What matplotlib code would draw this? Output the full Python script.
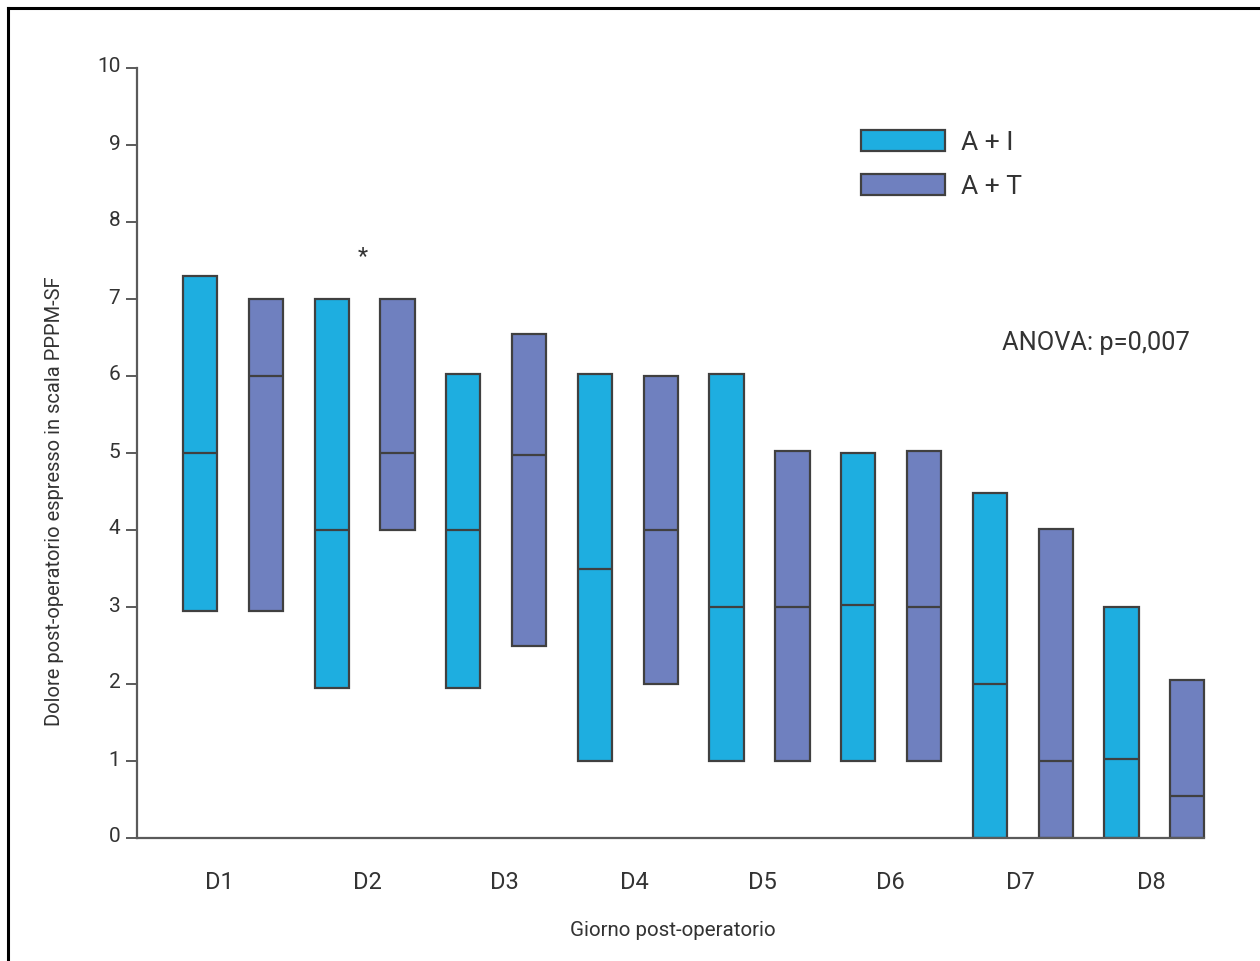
import matplotlib
matplotlib.use("Agg")
import matplotlib.pyplot as plt
import matplotlib.transforms as mtransforms
from matplotlib.patches import Patch
from matplotlib.lines import Line2D

plt.rcParams['font.family'] = ['Roboto', 'DejaVu Sans']

days = ["D1", "D2", "D3", "D4", "D5", "D6", "D7", "D8"]
groups = ["A + I", "A + T"]

# min, median, max per day
ai_min = [2.95, 1.95, 1.95, 1.0, 1.0, 1.0, 0.0, 0.0]
ai_med = [5.0, 4.0, 4.0, 3.5, 3.0, 3.02, 2.0, 1.02]
ai_max = [7.3, 7.0, 6.02, 6.02, 6.02, 5.0, 4.48, 3.0]

at_min = [2.95, 4.0, 2.5, 2.0, 1.0, 1.0, 0.0, 0.0]
at_med = [6.0, 5.0, 4.98, 4.0, 3.0, 3.0, 1.0, 0.54]
at_max = [7.0, 7.0, 6.55, 6.0, 5.03, 5.03, 4.01, 2.05]

# day label positions along the bar index axis
day_pos = [0.29, 2.55, 4.62, 6.6, 8.54, 10.49, 12.46, 14.45]

colors = ["#1eaee0", "#6f80bf"]
edge = "#404040"
axc = "#5a5a5a"
txt = "#333333"

fig = plt.figure(figsize=(12.6, 9.61), dpi=100)
ax = fig.add_axes([137/1260, 1-838/961, 1080/1260, 770/961])

w = 0.52
series = [(ai_min, ai_med, ai_max), (at_min, at_med, at_max)]
for g, (lo, med, hi) in enumerate(series):
    for i in range(len(days)):
        x = 2*i + g
        ax.bar(x, hi[i]-lo[i], bottom=lo[i], width=w, color=colors[g],
               edgecolor=edge, linewidth=1.6, zorder=3)
        ax.plot([x-w/2, x+w/2], [med[i], med[i]], color=edge, lw=1.6, zorder=4,
                solid_capstyle='butt')

ax.set_xlim(-0.957, 15.45)
ax.set_ylim(0, 10)
ax.spines['bottom'].set_bounds(-0.957, 15.26)
ax.set_yticks(range(11))
ax.set_xticks(day_pos)
ax.set_xticklabels(days, fontsize=17, color=txt)
ax.tick_params(axis='x', length=0, pad=24)
ax.tick_params(axis='y', length=8, width=1.4, color=axc, labelsize=15,
               labelcolor=txt, pad=4)
shift = mtransforms.ScaledTranslation(0, 3/100, fig.dpi_scale_trans)
for lab in ax.get_yticklabels():
    lab.set_transform(lab.get_transform() + shift)
for s in ["top", "right"]:
    ax.spines[s].set_visible(False)
for s in ["left", "bottom"]:
    ax.spines[s].set_color(axc)
    ax.spines[s].set_linewidth(1.6)
ax.spines["bottom"].set_zorder(5)

ax.text(2.48, 7.55, "*", ha='center', va='center', fontsize=17, color=txt)

handles = [Patch(facecolor=c, edgecolor=edge, linewidth=1.6) for c in colors]
ax.legend(handles, groups, loc='upper left', bbox_to_anchor=(861/1260, 1-130/961),
          bbox_transform=fig.transFigure, frameon=False, fontsize=19,
          handlelength=3.2, handleheight=0.85, handletextpad=0.6,
          labelspacing=0.75, borderpad=0, borderaxespad=0, labelcolor=txt)

fig.text(1190/1260, 1-343/961, "ANOVA: p=0,007", ha='right', va='center',
         fontsize=18.3, color=txt)
fig.text(673/1260, 1-930/961, "Giorno post-operatorio", ha='center', va='center',
         fontsize=14.8, color=txt)
fig.text(55/1260, 1-501/961, "Dolore post-operatorio espresso in scala PPPM-SF",
         rotation=90, ha='center', va='center', fontsize=14.5, color=txt)

# frame lines along top and left edge
fig.add_artist(Line2D([8/1260, 1], [1-8/961, 1-8/961], color='black', lw=2.2,
                      transform=fig.transFigure))
fig.add_artist(Line2D([8/1260, 8/1260], [0, 1-8/961], color='black', lw=2.2,
                      transform=fig.transFigure))

fig.savefig("out.png", dpi=100)
